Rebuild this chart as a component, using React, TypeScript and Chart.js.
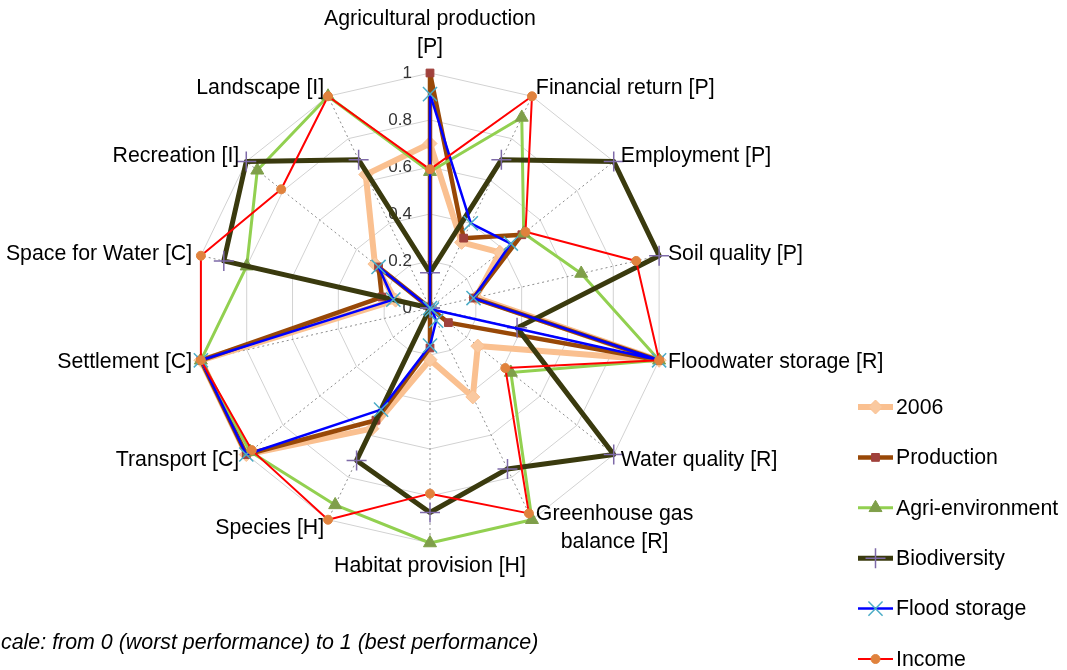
import React, { useEffect, useRef } from "react";
import { Chart, registerables } from "chart.js";
import { drawPoint } from "chart.js/helpers";

Chart.register(...registerables);

// ---------- data ----------
const criteria: (string | string[])[] = [
  ["Agricultural production", "[P]"],
  "Financial return [P]",
  "Employment [P]",
  "Soil quality [P]",
  "Floodwater storage [R]",
  "Water quality [R]",
  ["Greenhouse gas", "balance [R]"],
  "Habitat provision [H]",
  "Species [H]",
  "Transport [C]",
  "Settlement [C]",
  "Space for Water [C]",
  "Recreation [I]",
  "Landscape [I]",
];

const values2006 = [0.7, 0.31, 0.38, 0.2, 1.0, 0.26, 0.42, 0.22, 0.57, 1.0, 1.0, 0.15, 0.3, 0.63];
const valuesProduction = [1.0, 0.33, 0.5, 0.19, 1.0, 0.1, 0.0, 0.17, 0.53, 1.0, 1.0, 0.21, 0.28, 0.0];
const valuesAgriEnv = [0.58, 0.9, 0.51, 0.66, 1.0, 0.44, 1.0, 1.0, 0.93, 0.98, 1.0, 0.8, 0.94, 1.0];
const valuesBiodiversity = [0.15, 0.7, 1.0, 1.0, 0.38, 1.0, 0.76, 0.87, 0.72, 0.0, 0.0, 0.9, 1.0, 0.7];
const valuesFloodStorage = [0.91, 0.4, 0.44, 0.19, 1.0, 0.01, 0.06, 0.16, 0.48, 1.0, 1.0, 0.16, 0.28, 0.0];
const valuesIncome = [0.59, 1.0, 0.52, 0.9, 1.0, 0.41, 0.97, 0.79, 1.0, 0.97, 1.0, 1.0, 0.81, 1.0];

const seriesNames = ["2006", "Production", "Agri-environment", "Biodiversity", "Flood storage", "Income"];

const scaleMin = 0;
const scaleMax = 1;
const scaleStep = 0.2;

const footnote = "cale: from 0 (worst performance) to 1 (best performance)";

// ---------- styles ----------
const FONT = "'Liberation Sans', Arial, sans-serif";
const LABEL_SIZE = 21.3;
const LINE_H = 28;

const seriesStyles = [
  { line: "#FAC090", width: 6, point: "rectRot", radius: 7, fill: "#FAC9A0", stroke: "#FAC090", pw: 1 },
  { line: "#984807", width: 4.5, point: "rect", radius: 5.5, fill: "#A0413C", stroke: "#A0413C", pw: 1 },
  { line: "#92D050", width: 3, point: "triangle", radius: 7.5, fill: "#7F9F4A", stroke: "#7F9F4A", pw: 1 },
  { line: "#3A3A0E", width: 5, point: "cross", radius: 10, fill: "#7E6AA8", stroke: "#7E6AA8", pw: 1.5 },
  { line: "#0000FF", width: 2.5, point: "crossRot", radius: 10, fill: "#4BACC6", stroke: "#4BACC6", pw: 1.5 },
  { line: "#FF0000", width: 2, point: "circle", radius: 4.5, fill: "#E0823D", stroke: "#E0823D", pw: 1 },
];

const allValues = [values2006, valuesProduction, valuesAgriEnv, valuesBiodiversity, valuesFloodStorage, valuesIncome];

const tickPlugin = {
  id: "excelTicks",
  beforeDatasetsDraw(chart: any) {
    const scale = chart.scales.r;
    const ctx = chart.ctx;
    ctx.save();
    ctx.font = `17px ${FONT}`;
    ctx.fillStyle = "#333333";
    ctx.textAlign = "right";
    ctx.textBaseline = "middle";
    scale.ticks.forEach((t: any) => {
      const d = scale.getDistanceFromCenterForValue(t.value);
      const txt = String(parseFloat(Number(t.value).toFixed(1)));
      ctx.fillText(txt, scale.xCenter - 18, scale.yCenter - d);
    });
    ctx.restore();
  },
};

const labelPlugin = {
  id: "excelLabels",
  afterDraw(chart: any) {
    const scale = chart.scales.r;
    const ctx = chart.ctx;
    ctx.save();
    ctx.font = `${LABEL_SIZE}px ${FONT}`;
    ctx.fillStyle = "#000000";
    ctx.textBaseline = "middle";
    ctx.textAlign = "center";
    const labels = chart.data.labels as (string | string[])[];
    labels.forEach((lbl, i) => {
      const p = scale.getPointPosition(i, scale.drawingArea + 9);
      const ux = Math.cos(p.angle);
      const uy = Math.sin(p.angle);
      const lines = Array.isArray(lbl) ? lbl : [lbl];
      const widths = lines.map((s) => ctx.measureText(s).width);
      const maxW = Math.max(...widths);
      const h = lines.length * LINE_H;
      let left: number;
      let top: number;
      if (Math.abs(ux) < 0.1) {
        left = p.x - maxW / 2;
        top = uy < 0 ? p.y - h - 3 : p.y;
      } else {
        left = ux > 0 ? p.x : p.x - maxW;
        top = p.y - h / 2;
      }
      lines.forEach((s, k) => {
        ctx.fillText(s, left + maxW / 2, top + LINE_H * k + LINE_H / 2);
      });
    });

    // legend
    const datasets = chart.data.datasets;
    datasets.forEach((ds: any, i: number) => {
      const y = 407 + i * 50.4;
      const x0 = 858;
      const x1 = 893;
      ctx.save();
      ctx.strokeStyle = ds.borderColor;
      ctx.lineWidth = ds.borderWidth;
      ctx.lineCap = "butt";
      ctx.beginPath();
      ctx.moveTo(x0, y);
      ctx.lineTo(x1, y);
      ctx.stroke();
      ctx.fillStyle = ds.pointBackgroundColor;
      ctx.strokeStyle = ds.pointBorderColor;
      ctx.lineWidth = ds.pointBorderWidth;
      drawPoint(ctx, { pointStyle: ds.pointStyle, radius: ds.pointRadius, borderWidth: ds.pointBorderWidth, rotation: 0 } as any, (x0 + x1) / 2, y);
      ctx.restore();
      ctx.fillStyle = "#000000";
      ctx.textAlign = "left";
      ctx.font = `${LABEL_SIZE}px ${FONT}`;
      ctx.fillText(ds.label, 896, y + 1);
    });

    // footnote
    ctx.font = `italic 21.4px ${FONT}`;
    ctx.textAlign = "left";
    ctx.fillStyle = "#000000";
    ctx.fillText(footnote, 1, 643);
    ctx.restore();
  },
};

export default function App() {
  const canvasRef = useRef<HTMLCanvasElement | null>(null);

  useEffect(() => {
    if (!canvasRef.current) return;
    const datasets = allValues.map((vals, i) => {
      const s = seriesStyles[i];
      return {
        label: seriesNames[i],
        data: vals,
        borderColor: s.line,
        backgroundColor: "rgba(0,0,0,0)",
        borderWidth: s.width,
        borderJoinStyle: "round",
        fill: false,
        pointStyle: s.point,
        pointRadius: s.radius,
        pointHoverRadius: s.radius,
        pointBackgroundColor: s.fill,
        pointBorderColor: s.stroke,
        pointBorderWidth: s.pw,
        order: allValues.length - 1 - i,
        clip: false,
      };
    });
    const chart = new Chart(canvasRef.current, {
      type: "radar",
      data: { labels: criteria, datasets: datasets as any },
      options: {
        responsive: false,
        animation: false,
        devicePixelRatio: 1,
        layout: { padding: { left: 195, right: 402, top: 73, bottom: 127 } },
        plugins: { legend: { display: false }, tooltip: { enabled: false }, title: { display: false } },
        elements: { line: { tension: 0 } },
        scales: {
          r: {
            min: scaleMin,
            max: scaleMax,
            startAngle: 0,
            ticks: { stepSize: scaleStep, display: false },
            grid: { color: "#D2D2D2", lineWidth: 1, circular: false },
            angleLines: { color: "#8C8C8C", lineWidth: 1, borderDash: [2, 3] },
            pointLabels: { display: false },
          },
        },
      },
      plugins: [tickPlugin, labelPlugin],
    });
    return () => chart.destroy();
  }, []);

  return (
    <div style={{ position: "absolute", left: 0, top: 0, width: 1067, height: 670, background: "#ffffff" }}>
      <canvas ref={canvasRef} width={1067} height={670} style={{ display: "block" }} />
    </div>
  );
}
